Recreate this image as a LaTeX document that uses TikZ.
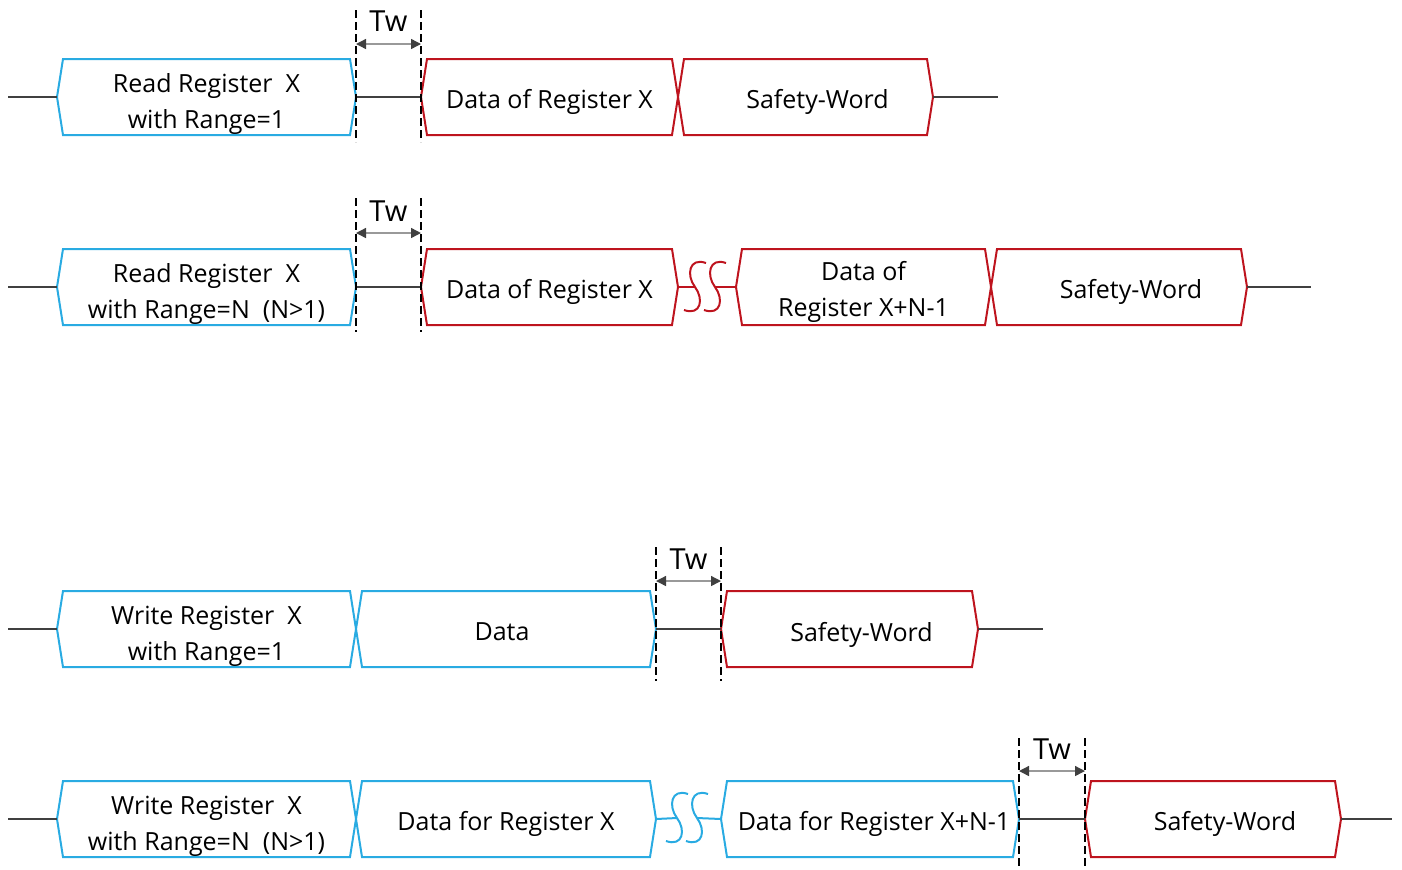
\documentclass[tikz,border=0pt]{standalone}
\usepackage{fontspec}
\setmainfont{Open Sans}
\usetikzlibrary{arrows.meta}
\definecolor{regblue}{RGB}{41,171,226}
\definecolor{regred}{RGB}{190,20,30}

\begin{document}
\begin{tikzpicture}[x=0.5pt,y=-0.5pt,
every node/.style={inner sep=1pt, font=\fontsize{12.5}{18}\selectfont, align=center},
hexbox/.style={line width=1pt, line join=miter},
bus/.style={line width=0.8pt, draw=black!75},
gap/.style={dash pattern=on 4pt off 2pt, line width=0.6pt},
tw/.style={{Triangle[length=5pt,width=5pt,color=black!75]}-{Triangle[length=5pt,width=5pt,color=black!75]}, draw=black!40, line width=0.7pt}
]
\useasboundingbox (0,0) rectangle (1402,869);

\foreach \n/\xa/\xb/\y/\c/\dx/\dy/\t in {
    r1a/57/356/97/regblue/0/7/{Read Register\ \ X\\with Range=1},
    r1b/421/678/97/regred/0/5/{Data of Register X},
    r1c/678/933/97/regred/12/5/{Safety-Word},
    r2a/57/356/287/regblue/0/7/{Read Register\ \ X\\with Range=N\ \ (N>1)},
    r2b/421/678/287/regred/0/5/{Data of Register X},
    r2c/736/991/287/regred/0/5/{Data of\\Register X+N-1},
    r2d/991/1247/287/regred/12/5/{Safety-Word},
    r3a/57/356/629/regblue/0/7/{Write Register\ \ X\\with Range=1},
    r3b/356/656/629/regblue/-4/3/{Data},
    r3c/721/978/629/regred/12/6/{Safety-Word},
    r4a/57/356/819/regblue/0/7/{Write Register\ \ X\\with Range=N\ \ (N>1)},
    r4b/356/656/819/regblue/0/5/{Data for Register X},
    r4c/721/1019/819/regblue/4/5/{Data for Register X+N-1},
    r4d/1085/1341/819/regred/12/5/{Safety-Word}%
    }{
    \draw[hexbox, draw=\c] (\xa,\y) -- (\xa+6,\y-38) -- (\xb-6,\y-38) -- (\xb,\y)
        -- (\xb-6,\y+38) -- (\xa+6,\y+38) -- cycle;
    \coordinate (\n-w) at (\xa,\y);
    \coordinate (\n-e) at (\xb,\y);
    \node (\n) at ({(\xa+\xb)/2+\dx},\y+\dy) {\t};
}

\foreach \i/\xa/\xb/\y in {1/8/998/97, 2/8/1311/287, 3/8/1043/629, 4/8/1392/819}{
    \coordinate (in\i) at (\xa,\y);
    \coordinate (out\i) at (\xb,\y);
}

\foreach \a/\b in {in1/r1a-w, r1a-e/r1b-w, r1c-e/out1,
                   in2/r2a-w, r2a-e/r2b-w, r2d-e/out2,
                   in3/r3a-w, r3b-e/r3c-w, r3c-e/out3,
                   in4/r4a-w, r4c-e/r4d-w, r4d-e/out4%
            }
    \draw[bus] (\a) -- (\b);

\foreach \a/\b/\x/\y/\c in {r2b/r2c/687/287/regred, r4b/r4c/669/818/regblue}{
    \draw[line width=1pt, draw=\c] (\a-e) -- (\x+8,\y) (\x+28,\y) -- (\b-w);
    \foreach \s in {0,20}
        \draw[line width=1pt, draw=\c] (\x+\s+19,\y-24) .. controls (\x+\s+2,\y-30) and (\x+\s-1,\y-12) .. (\x+\s+8,\y)
            .. controls (\x+\s+17,\y+12) and (\x+\s+14,\y+29) .. (\x+\s-3,\y+23);
}

\foreach \i/\xa/\xb/\ya/\yb/\ym/\yt in {1/356/421/10/142/44/20, 2/356/421/198/332/233/210,
                                         3/656/721/547/681/581/558, 4/1019/1085/738/869/771/748}{
    \coordinate (tw\i-a) at (\xa,\ym);
    \coordinate (tw\i-b) at (\xb,\ym);
    \draw[gap] (\xa,\ya) -- (\xa,\yb) (\xb,\ya) -- (\xb,\yb);
    \draw[tw] (tw\i-a) -- (tw\i-b);
    \node[font=\fontsize{14.5}{16}\selectfont] (tw\i) at ({(\xa+\xb)/2},\yt+1) {Tw};
}
\end{tikzpicture}
\end{document}
